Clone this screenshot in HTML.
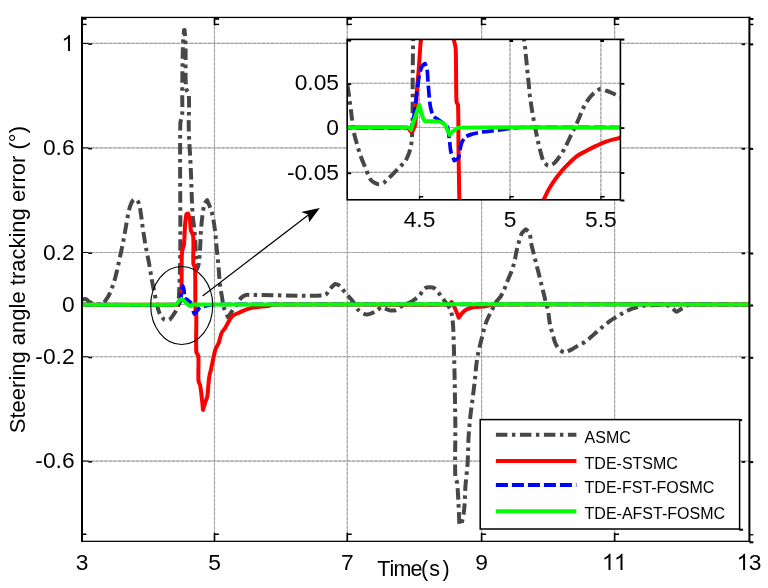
<!DOCTYPE html><html><head><meta charset="utf-8"><style>html,body{margin:0;padding:0;background:#fff;}svg{display:block;will-change:transform;}</style></head><body>
<svg width="768" height="588" viewBox="0 0 768 588" font-family='"Liberation Sans", sans-serif'>
<rect width="768" height="588" fill="#fff"/>
<defs><clipPath id="cm"><rect x="82.0" y="17.4" width="667.4" height="523.9"/></clipPath><clipPath id="ci"><rect x="347.2" y="39.4" width="273.2" height="160.4"/></clipPath></defs>
<g stroke="#c6c6c6" stroke-width="1.1"><line x1="214.5" y1="17.4" x2="214.5" y2="541.3"/><line x1="347.3" y1="17.4" x2="347.3" y2="541.3"/><line x1="481.6" y1="17.4" x2="481.6" y2="541.3"/><line x1="614.6" y1="17.4" x2="614.6" y2="541.3"/><line x1="82.0" y1="43.4" x2="749.4" y2="43.4"/><line x1="82.0" y1="147.9" x2="749.4" y2="147.9"/><line x1="82.0" y1="252.5" x2="749.4" y2="252.5"/><line x1="82.0" y1="304.5" x2="749.4" y2="304.5"/><line x1="82.0" y1="356.8" x2="749.4" y2="356.8"/><line x1="82.0" y1="461.1" x2="749.4" y2="461.1"/></g>
<g stroke="#a2a2a2" stroke-width="1.1" stroke-dasharray="3 1.5"><line x1="214.5" y1="17.4" x2="214.5" y2="541.3"/><line x1="347.3" y1="17.4" x2="347.3" y2="541.3"/><line x1="481.6" y1="17.4" x2="481.6" y2="541.3"/><line x1="614.6" y1="17.4" x2="614.6" y2="541.3"/><line x1="82.0" y1="43.4" x2="749.4" y2="43.4"/><line x1="82.0" y1="147.9" x2="749.4" y2="147.9"/><line x1="82.0" y1="252.5" x2="749.4" y2="252.5"/><line x1="82.0" y1="304.5" x2="749.4" y2="304.5"/><line x1="82.0" y1="356.8" x2="749.4" y2="356.8"/><line x1="82.0" y1="461.1" x2="749.4" y2="461.1"/></g>
<g fill="#000"><rect x="81.2" y="17.4" width="1.6" height="8"/><rect x="82.0" y="18.0" width="4.6" height="1.8"/><rect x="82.0" y="23.7" width="4.6" height="1.4"/><rect x="81.2" y="532.8" width="1.6" height="8.5"/><rect x="82.0" y="533.5" width="4.4" height="1.5"/><rect x="213.7" y="17.4" width="1.6" height="8"/><rect x="214.5" y="18.0" width="4.6" height="1.8"/><rect x="214.5" y="23.7" width="4.6" height="1.4"/><rect x="213.7" y="532.8" width="1.6" height="8.5"/><rect x="214.5" y="533.5" width="4.4" height="1.5"/><rect x="346.5" y="17.4" width="1.6" height="8"/><rect x="347.3" y="18.0" width="4.6" height="1.8"/><rect x="347.3" y="23.7" width="4.6" height="1.4"/><rect x="346.5" y="532.8" width="1.6" height="8.5"/><rect x="347.3" y="533.5" width="4.4" height="1.5"/><rect x="480.8" y="17.4" width="1.6" height="8"/><rect x="481.6" y="18.0" width="4.6" height="1.8"/><rect x="481.6" y="23.7" width="4.6" height="1.4"/><rect x="480.8" y="532.8" width="1.6" height="8.5"/><rect x="481.6" y="533.5" width="4.4" height="1.5"/><rect x="613.8000000000001" y="17.4" width="1.6" height="8"/><rect x="614.6" y="18.0" width="4.6" height="1.8"/><rect x="614.6" y="23.7" width="4.6" height="1.4"/><rect x="613.8000000000001" y="532.8" width="1.6" height="8.5"/><rect x="614.6" y="533.5" width="4.4" height="1.5"/><rect x="749.4" y="18.0" width="4" height="2"/><rect x="749.4" y="23.7" width="4" height="1.5"/><rect x="749.4" y="534.0999999999999" width="4" height="1.3"/><rect x="749.4" y="541.3" width="4" height="2"/><rect x="82.0" y="42.9" width="6.5" height="1"/><rect x="88.3" y="43.4" width="3.8" height="1.5"/><rect x="741.6" y="43.4" width="3.5" height="1.8"/><rect x="749.4" y="43.4" width="3.8" height="2"/><rect x="82.0" y="147.4" width="6.5" height="1"/><rect x="88.3" y="147.9" width="3.8" height="1.5"/><rect x="741.6" y="147.9" width="3.5" height="1.8"/><rect x="749.4" y="147.9" width="3.8" height="2"/><rect x="82.0" y="252.0" width="6.5" height="1"/><rect x="88.3" y="252.5" width="3.8" height="1.5"/><rect x="741.6" y="252.5" width="3.5" height="1.8"/><rect x="749.4" y="252.5" width="3.8" height="2"/><rect x="82.0" y="304.0" width="6.5" height="1"/><rect x="88.3" y="304.5" width="3.8" height="1.5"/><rect x="741.6" y="304.5" width="3.5" height="1.8"/><rect x="749.4" y="304.5" width="3.8" height="2"/><rect x="82.0" y="356.3" width="6.5" height="1"/><rect x="88.3" y="356.8" width="3.8" height="1.5"/><rect x="741.6" y="356.8" width="3.5" height="1.8"/><rect x="749.4" y="356.8" width="3.8" height="2"/><rect x="82.0" y="460.6" width="6.5" height="1"/><rect x="88.3" y="461.1" width="3.8" height="1.5"/><rect x="741.6" y="461.1" width="3.5" height="1.8"/><rect x="749.4" y="461.1" width="3.8" height="2"/></g>
<g clip-path="url(#cm)">
<path d="M82.0,299.5C82.0,299.5 85.1,298.9 86.0,299.2C87.0,299.5 88.3,301.3 89.5,302.0C91.1,302.9 93.2,303.7 95.0,304.0C97.0,304.3 99.6,304.3 101.4,304.0C102.3,303.9 103.3,303.1 104.0,302.5C104.8,301.7 105.5,300.5 106.2,299.5C107.2,298.0 108.2,296.6 109.0,295.0C110.0,293.1 110.7,291.0 111.5,289.0C112.6,286.2 113.6,283.4 114.5,280.5C115.4,277.4 116.2,274.2 116.9,271.0C117.8,267.3 118.5,263.7 119.3,260.0C120.0,256.7 120.8,253.3 121.5,250.0C122.1,247.0 122.7,244.0 123.3,241.0C123.8,238.3 124.3,235.7 124.8,233.0C125.3,230.3 125.7,227.7 126.2,225.0C126.7,222.3 127.1,219.7 127.6,217.0C128.1,214.3 128.6,211.6 129.3,209.0C129.7,207.3 130.3,205.6 131.0,204.0C131.4,202.9 132.0,201.7 132.6,200.8C133.0,200.2 133.9,199.6 134.4,199.4C134.9,199.3 136.0,199.3 136.4,199.6C137.0,200.0 137.8,201.0 138.2,201.8C138.9,203.2 139.4,204.9 139.7,206.5C140.4,209.6 140.7,212.8 141.2,216.0C141.7,219.3 142.0,222.7 142.5,226.0C143.0,229.3 143.5,232.7 144.0,236.0C144.5,239.0 145.0,242.0 145.5,245.0C146.0,247.7 146.5,250.3 147.0,253.0C147.6,256.3 148.4,259.7 149.0,263.0C149.6,266.3 150.1,269.7 150.7,273.0C151.3,276.7 151.9,280.3 152.6,284.0C153.2,287.0 153.9,290.0 154.5,293.0C155.2,296.3 155.7,299.7 156.5,303.0C157.4,306.6 158.3,310.6 159.8,313.8C160.8,315.9 163.2,319.0 164.5,319.8C165.3,320.3 168.5,320.3 169.3,319.8C170.6,319.0 172.6,315.9 174.0,313.8C175.3,311.9 177.1,309.9 177.6,307.9C178.6,304.1 178.8,299.3 179.0,295.0C179.7,280.1 180.2,265.0 180.3,250.0C180.6,208.0 179.7,165.3 180.3,124.0C180.3,120.7 182.0,117.3 182.2,114.0C182.6,106.2 182.1,98.0 182.2,90.0C182.4,74.7 182.5,59.3 183.0,44.0C183.1,39.3 184.1,30.4 184.1,30.0C184.1,30.0 184.6,30.0 184.6,30.0C184.6,30.3 185.4,39.3 185.5,44.0C185.9,58.6 185.1,74.3 186.0,88.0C186.2,90.3 188.6,92.7 188.8,95.0C189.5,105.8 188.5,118.4 188.8,130.0C189.1,142.3 190.2,154.7 190.7,167.0C191.4,182.3 191.6,197.7 192.5,213.0C192.8,218.7 193.9,224.3 194.4,230.0C194.9,235.0 195.2,240.0 195.5,245.0C195.8,250.7 195.6,256.4 196.0,262.0C196.1,264.3 197.0,269.0 197.0,269.0C197.0,269.0 198.3,266.4 198.5,265.0C199.3,260.2 199.6,255.0 200.0,250.0C200.5,243.4 200.5,236.6 201.0,230.0C201.4,225.0 201.8,220.0 202.5,215.0C203.0,211.3 203.5,207.2 204.5,204.0C204.9,202.7 207.2,200.2 207.2,200.2C207.2,200.2 210.6,208.0 211.7,212.0C213.0,217.0 213.9,222.2 214.6,227.4C215.6,234.7 216.1,242.1 216.8,249.5C217.4,255.2 218.0,260.8 218.5,266.5C219.1,272.7 219.3,278.9 220.0,285.0C220.5,289.0 221.3,293.0 222.0,297.0C222.6,300.7 223.0,304.5 224.0,308.0C224.9,311.1 228.0,317.2 228.0,317.2C228.0,317.2 233.1,309.5 235.7,305.7C237.6,302.9 239.4,299.7 241.5,297.5C242.6,296.4 244.5,295.4 246.0,295.0C247.4,294.6 249.3,295.0 251.0,295.0C275.7,295.1 309.6,296.4 325.0,295.2C326.7,295.1 328.2,290.9 330.0,289.0C331.6,287.2 334.3,284.3 335.2,284.0C335.9,283.8 338.9,285.0 340.0,286.0C341.9,287.7 343.5,290.7 345.4,293.0C347.7,295.7 350.4,298.2 352.5,301.0C354.8,304.0 356.4,308.2 358.8,310.4C360.7,312.2 364.9,314.5 367.0,314.6C369.0,314.7 372.8,312.8 375.4,311.5C377.6,310.4 380.2,307.4 381.7,307.3C383.4,307.2 387.4,309.9 390.0,310.4C391.9,310.7 394.6,310.6 396.2,310.0C398.3,309.2 400.3,306.7 402.5,305.5C405.1,304.1 408.2,303.4 410.8,302.0C412.6,301.1 414.3,299.7 416.0,298.5C417.3,297.5 418.7,296.5 419.7,295.3C421.0,293.8 421.8,291.5 423.0,290.0C423.8,289.1 425.0,288.0 426.0,287.6C427.3,287.1 429.4,287.1 431.0,287.2C432.0,287.2 433.3,287.5 434.0,288.0C435.3,288.9 436.8,290.6 438.0,292.0C439.4,293.7 440.7,295.7 442.0,297.5C444.1,300.3 446.4,303.1 448.3,306.0C449.5,307.9 450.9,309.9 451.3,312.0C452.5,317.5 453.1,324.0 453.3,330.0C454.4,359.9 454.9,390.0 455.3,420.0C455.6,439.0 454.7,458.8 455.3,477.0C455.4,479.2 457.1,481.3 457.3,483.5C458.4,496.7 459.3,523.6 459.4,524.3C459.4,524.3 461.4,524.4 461.4,524.3C461.7,523.4 463.6,514.8 464.1,510.0C465.0,501.9 464.9,493.7 465.5,485.5C466.1,478.0 467.1,470.5 467.6,463.0C468.2,454.2 468.1,445.3 468.6,436.5C469.1,429.0 469.8,421.5 470.6,414.0C471.2,408.7 472.0,403.3 472.7,398.0C473.4,392.5 474.1,387.1 474.7,381.6C475.3,376.2 475.7,370.7 476.3,365.3C476.7,361.9 477.2,358.4 477.8,355.0C478.3,352.0 479.1,349.0 479.8,346.0C480.8,341.9 481.9,337.8 482.9,333.7C483.5,331.3 484.0,328.8 484.7,326.5C485.5,324.0 486.4,321.4 487.5,319.0C488.6,316.5 490.0,314.1 491.2,311.6C492.8,308.5 494.1,305.1 495.9,302.2C497.2,300.2 499.3,298.6 500.6,296.6C502.1,294.3 503.2,291.7 504.3,289.2C505.7,286.1 506.7,282.9 508.0,279.8C509.2,276.7 510.7,273.6 511.8,270.5C512.9,267.4 513.8,264.3 514.6,261.1C515.4,258.0 515.7,254.9 516.4,251.8C517.3,248.0 518.2,244.3 519.3,240.6C520.1,238.1 520.8,235.2 522.0,233.1C522.8,231.7 525.8,229.3 525.8,229.3C525.8,229.3 529.0,231.7 529.5,233.1C530.6,236.0 530.6,240.6 531.4,244.3C532.2,248.1 533.3,251.8 534.2,255.5C535.1,259.2 536.1,263.0 537.0,266.7C537.9,270.4 538.9,274.2 539.8,277.9C540.7,281.7 541.7,285.4 542.6,289.2C543.5,292.9 544.5,296.7 545.4,300.4C546.3,304.1 547.5,307.8 548.2,311.6C548.9,315.1 549.0,318.7 549.6,322.2C550.0,324.3 550.5,326.4 551.0,328.5C551.6,330.7 552.3,332.9 552.9,335.1C553.6,337.5 554.1,340.1 555.0,342.3C555.9,344.5 557.1,347.1 558.6,348.7C560.0,350.2 563.1,352.3 564.4,352.3C566.2,352.3 570.2,350.1 573.0,348.7C574.7,347.8 576.3,346.6 578.0,345.6C580.1,344.4 582.4,343.6 584.4,342.3C586.9,340.6 589.2,338.5 591.6,336.5C593.5,334.9 595.4,333.2 597.3,331.5C599.2,329.8 601.1,328.1 603.0,326.5C605.4,324.5 607.7,322.6 610.2,320.8C612.0,319.5 614.0,318.4 615.9,317.2C618.3,315.7 620.7,314.2 623.1,312.9C625.4,311.6 627.8,310.3 630.3,309.3C632.6,308.4 635.0,307.9 637.4,307.2C639.3,306.7 641.3,305.9 643.2,305.7C647.0,305.2 651.1,305.2 655.0,305.0C658.3,304.8 662.0,304.2 665.0,304.5C666.6,304.7 668.6,305.6 670.0,306.5C672.3,307.9 675.6,311.6 676.5,311.8C677.2,311.9 680.1,309.6 682.0,308.5C684.0,307.4 686.0,305.9 688.0,305.2C689.5,304.7 691.3,304.6 693.0,304.5C695.3,304.4 697.7,304.5 700.0,304.5C716.3,304.5 749.0,304.5 749.0,304.5" fill="none" stroke="#474747" stroke-width="4.0" stroke-dasharray="11.5 4.5 3.5 4.5" stroke-linejoin="round"/>
<path d="M82.0,304.5C82.0,304.5 162.5,305.2 178.0,304.5C178.8,304.5 180.2,301.5 180.5,300.0C181.3,295.8 181.4,290.7 181.5,286.0C181.9,274.7 181.3,263.0 182.0,252.0C182.2,249.3 183.7,246.7 184.0,244.0C184.7,238.1 184.5,232.0 185.0,226.0C185.3,222.0 186.1,215.7 186.5,214.0C186.6,213.8 188.0,213.5 188.0,213.5C188.0,213.5 189.6,217.8 190.0,220.0C190.5,223.2 190.2,226.9 190.8,230.0C191.2,232.0 193.0,234.0 193.2,236.0C193.9,244.7 192.9,255.3 193.4,264.0C193.5,265.3 194.9,266.7 195.0,268.0C195.6,281.0 195.1,296.2 195.5,310.0C195.5,311.3 196.3,312.7 196.3,314.0C196.5,326.4 195.8,340.7 196.3,352.0C196.4,353.3 198.2,354.7 198.3,356.0C198.9,363.5 198.0,373.2 198.5,381.0C198.6,382.7 200.0,384.3 200.3,386.0C201.5,393.7 203.0,410.0 203.0,410.0C203.0,410.0 204.6,404.7 205.4,402.0C206.0,400.0 207.1,398.0 207.4,396.0C208.1,392.1 208.1,387.8 208.5,383.7C208.8,381.0 209.0,378.2 209.5,375.5C209.9,373.5 210.5,371.4 211.0,369.4C211.9,365.3 212.7,361.1 213.6,357.0C214.2,354.3 214.7,351.5 215.6,349.0C216.4,346.9 217.9,345.0 218.7,342.9C219.9,339.6 220.4,335.7 221.7,332.7C222.3,331.2 223.9,330.0 224.8,328.6C227.3,324.6 229.3,319.3 232.0,316.3C233.6,314.6 236.9,313.7 239.4,312.5C242.5,311.1 245.6,309.5 248.8,308.6C251.7,307.7 254.9,307.4 258.0,307.0C261.3,306.6 264.7,306.5 268.0,306.0C270.0,305.7 272.0,304.5 274.0,304.5C330.3,304.0 400.8,305.2 448.0,304.5C449.2,304.5 451.5,302.0 451.5,302.0C451.5,302.0 453.4,304.6 454.0,306.0C455.7,309.8 458.8,317.7 458.8,317.7C458.8,317.7 462.7,312.0 465.0,310.4C467.1,308.9 470.5,307.9 473.3,307.3C477.2,306.5 481.7,306.8 485.8,306.2C488.9,305.9 491.9,304.5 495.0,304.5C578.2,303.9 749.0,304.5 749.0,304.5" fill="none" stroke="#ff0000" stroke-width="4.0" stroke-linejoin="round"/>
<path d="M82.0,304.5C82.0,304.5 162.5,305.2 178.0,304.5C178.8,304.5 180.1,301.5 180.5,300.0C181.2,297.0 181.0,293.2 181.5,290.0C181.7,288.6 182.8,286.0 182.8,286.0C182.8,286.0 183.8,288.7 184.0,290.0C184.4,292.6 184.0,296.6 184.5,298.0C184.7,298.5 186.2,298.9 187.0,299.5C188.0,300.3 189.2,301.1 190.0,302.0C190.8,302.9 191.6,303.9 192.0,305.0C192.7,307.1 192.9,309.8 193.5,312.0C193.7,312.7 194.5,314.0 194.5,314.0C194.5,314.0 196.2,312.0 197.0,311.0C198.0,309.8 198.9,308.3 200.0,307.5C200.7,307.0 202.0,306.8 203.0,306.5C204.6,306.1 206.3,305.8 208.0,305.5C210.3,305.1 212.7,304.5 215.0,304.5C391.2,304.2 749.0,304.5 749.0,304.5" fill="none" stroke="#0000ff" stroke-width="3.7" stroke-dasharray="12 4" stroke-linejoin="round"/>
<path d="M82.0,304.5C82.0,304.5 155.6,305.2 176.0,304.5C177.0,304.5 177.9,302.1 179.0,301.0C179.8,300.2 181.4,298.8 181.5,298.8C181.6,298.8 183.2,300.2 184.0,301.0C184.7,301.6 185.3,302.4 186.0,303.0C187.0,303.9 188.0,304.9 189.0,305.5C189.5,305.8 190.6,306.1 191.0,306.0C191.5,305.9 192.3,304.5 193.0,304.5C341.3,304.1 749.0,304.5 749.0,304.5" fill="none" stroke="#00ff00" stroke-width="4.0" stroke-linejoin="round"/>
</g>
<g fill="#000"><rect x="81" y="16.8" width="2" height="525"/><rect x="748.4" y="16.8" width="2" height="525"/><rect x="81" y="16.8" width="669.4" height="1.25"/><rect x="81" y="540.7" width="669.4" height="1.25"/></g>
<g font-size="22.8" fill="#000"><path d="M262 0L350 0L350 716L293 716C270 660 200 592 80 545L80 460C150 485 220 528 262 566Z" transform="translate(62.09,51.00) scale(0.02250,-0.02250)" fill="#000"/><text x="74.6" y="155.1" text-anchor="end">0.6</text><text x="74.6" y="259.7" text-anchor="end">0.2</text><text x="74.6" y="311.7" text-anchor="end">0</text><text x="74.6" y="364.0" text-anchor="end">-0.2</text><text x="74.6" y="468.3" text-anchor="end">-0.6</text><text x="82.0" y="569.9" text-anchor="middle">3</text><text x="214.5" y="569.9" text-anchor="middle">5</text><text x="347.3" y="569.9" text-anchor="middle">7</text><text x="481.6" y="569.9" text-anchor="middle">9</text><path d="M262 0L350 0L350 716L293 716C270 660 200 592 80 545L80 460C150 485 220 528 262 566Z" transform="translate(602.60,569.90) scale(0.02250,-0.02250)" fill="#000"/><path d="M262 0L350 0L350 716L293 716C270 660 200 592 80 545L80 460C150 485 220 528 262 566Z" transform="translate(614.60,569.90) scale(0.02250,-0.02250)" fill="#000"/><path d="M262 0L350 0L350 716L293 716C270 660 200 592 80 545L80 460C150 485 220 528 262 566Z" transform="translate(737.20,569.90) scale(0.02250,-0.02250)" fill="#000"/><text x="748.8" y="569.9">3</text></g>
<text x="377.3 389.4 393.6 410.6 420.9 429.3 442.5" y="575.5" font-size="21.5" fill="#000">Time(s)</text>
<text transform="translate(24.8,433.2) rotate(-90)" font-size="22" fill="#000">Steering angle tracking error (°)</text>
<rect x="480.2" y="419.6" width="259.40000000000003" height="109.39999999999998" fill="#fff" stroke="#000" stroke-width="1.5"/>
<rect x="739.1" y="528.7" width="4" height="2" fill="#000"/><rect x="739.1" y="419.1" width="3" height="2" fill="#000"/>
<line x1="495.9" y1="434.8" x2="576.4" y2="434.8" stroke="#474747" stroke-width="4" stroke-dasharray="11.5 4.5 3.5 4.5"/>
<text x="584.6" y="442.6" font-size="16" fill="#000">ASMC</text>
<line x1="495.9" y1="461.0" x2="576.4" y2="461.0" stroke="#ff0000" stroke-width="4"/>
<text x="584.6" y="468.8" font-size="16" fill="#000">TDE-STSMC</text>
<line x1="495.9" y1="485.1" x2="576.4" y2="485.1" stroke="#0000ff" stroke-width="4" stroke-dasharray="12 4"/>
<text x="584.6" y="492.9" font-size="16" fill="#000">TDE-FST-FOSMC</text>
<line x1="495.9" y1="511.3" x2="576.4" y2="511.3" stroke="#00ff00" stroke-width="4"/>
<text x="584.6" y="519.1" font-size="16" fill="#000">TDE-AFST-FOSMC</text>
<rect x="347.2" y="39.4" width="273.2" height="160.4" fill="#fff"/>
<g stroke="#c6c6c6" stroke-width="1.1"><line x1="419.5" y1="39.4" x2="419.5" y2="199.8"/><line x1="510.0" y1="39.4" x2="510.0" y2="199.8"/><line x1="600.9" y1="39.4" x2="600.9" y2="199.8"/><line x1="347.2" y1="83.2" x2="620.4" y2="83.2"/><line x1="347.2" y1="127.5" x2="620.4" y2="127.5"/><line x1="347.2" y1="172.4" x2="620.4" y2="172.4"/></g>
<g stroke="#a2a2a2" stroke-width="1.1" stroke-dasharray="3 1.5"><line x1="419.5" y1="39.4" x2="419.5" y2="199.8"/><line x1="510.0" y1="39.4" x2="510.0" y2="199.8"/><line x1="600.9" y1="39.4" x2="600.9" y2="199.8"/><line x1="347.2" y1="83.2" x2="620.4" y2="83.2"/><line x1="347.2" y1="127.5" x2="620.4" y2="127.5"/><line x1="347.2" y1="172.4" x2="620.4" y2="172.4"/></g>
<g fill="#000"><rect x="419.0" y="39.4" width="3.6" height="2.6"/><rect x="418.9" y="195.8" width="1.2" height="4"/><rect x="419.5" y="196.0" width="3.8" height="1.5"/><rect x="509.5" y="39.4" width="3.6" height="2.6"/><rect x="509.4" y="195.8" width="1.2" height="4"/><rect x="510.0" y="196.0" width="3.8" height="1.5"/><rect x="600.4" y="39.4" width="3.6" height="2.6"/><rect x="600.3" y="195.8" width="1.2" height="4"/><rect x="600.9" y="196.0" width="3.8" height="1.5"/><rect x="347.2" y="83.2" width="4" height="1.8"/><rect x="620.4" y="82.9" width="4" height="1.8"/><rect x="347.2" y="127.5" width="4" height="1.8"/><rect x="620.4" y="127.2" width="4" height="1.8"/><rect x="347.2" y="172.4" width="4" height="1.8"/><rect x="620.4" y="172.1" width="4" height="1.8"/><rect x="620.4" y="38.6" width="4" height="2"/><rect x="620.4" y="199.5" width="4" height="2"/><rect x="347.2" y="39.4" width="4" height="2.2"/></g>
<g clip-path="url(#ci)">
<path d="M347.5,85.4C347.5,85.4 348.2,89.8 348.5,92.0C349.2,97.2 349.9,102.4 350.6,107.6C351.6,115.1 352.2,122.6 353.4,130.0C354.0,133.7 355.1,137.4 356.1,141.0C357.4,145.7 358.7,150.4 360.3,155.0C361.9,159.7 364.0,164.3 365.9,168.9C367.2,172.2 368.4,175.9 370.0,178.7C370.8,180.0 372.2,181.3 373.5,182.2C374.5,182.9 375.9,183.6 377.0,183.9C378.0,184.2 379.4,184.2 380.5,184.0C381.6,183.8 383.1,183.3 384.0,182.6C386.8,180.4 389.6,177.2 392.4,174.5C395.2,171.7 398.0,169.0 400.7,166.1C402.4,164.3 404.3,162.6 405.6,160.6C407.0,158.4 408.0,155.6 409.0,153.0C409.8,150.7 410.6,148.4 411.0,146.0C411.6,142.4 411.8,138.7 412.0,135.0C412.3,130.0 412.4,125.0 412.5,120.0C412.7,106.7 412.6,93.3 412.7,80.0C412.8,63.3 413.2,30.0 413.2,30.0" fill="none" stroke="#474747" stroke-width="4.0" stroke-dasharray="11.5 4.5 3.5 4.5" stroke-linejoin="round"/>
<path d="M523.0,30.0C523.0,30.0 523.7,36.7 524.1,40.0C524.5,43.1 525.0,46.3 525.3,49.4C525.7,53.2 526.0,57.0 526.4,60.8C526.8,64.6 527.1,68.4 527.5,72.2C527.9,76.0 528.3,79.8 528.7,83.6C529.1,87.4 529.4,91.2 529.8,95.0C530.3,98.8 530.8,102.6 531.4,106.4C532.0,110.2 532.6,114.1 533.3,117.9C534.0,121.7 534.8,125.5 535.5,129.3C536.3,133.1 537.0,136.9 537.8,140.7C538.7,144.5 539.6,148.3 540.6,152.1C541.5,155.2 542.1,158.7 543.5,161.2C544.4,162.9 547.3,165.6 548.1,165.8C548.9,166.0 552.4,164.6 553.8,163.5C555.8,161.9 557.8,159.0 559.5,156.6C561.6,153.7 563.5,150.6 565.2,147.5C566.4,145.3 567.4,142.8 568.5,140.5C569.7,138.0 570.8,135.5 572.0,133.0C572.9,131.1 574.1,129.2 575.0,127.3C576.5,124.1 577.9,120.8 579.3,117.5C581.1,113.3 582.6,108.9 584.8,105.0C586.7,101.6 589.2,98.0 591.8,95.2C594.1,92.8 598.2,89.6 600.2,89.0C601.6,88.6 604.9,90.2 607.2,91.0C610.5,92.2 613.6,93.9 616.9,95.2C619.6,96.2 625.0,98.0 625.0,98.0" fill="none" stroke="#474747" stroke-width="4.0" stroke-dasharray="11.5 4.5 3.5 4.5" stroke-linejoin="round"/>
<path d="M340.0,127.5C340.0,127.5 383.6,127.3 405.0,127.5C406.0,127.5 407.4,127.6 408.0,128.0C408.8,128.6 409.8,130.8 410.5,131.3C410.8,131.5 412.3,131.5 412.5,131.3C412.9,131.0 413.5,129.1 414.0,128.0C414.5,126.8 415.2,125.6 415.3,124.4C416.1,114.6 416.1,103.9 416.7,93.7C417.3,84.4 418.3,75.2 419.0,65.9C419.5,59.4 419.8,52.9 420.3,46.4C420.7,40.9 421.8,30.0 421.8,30.0" fill="none" stroke="#ff0000" stroke-width="4.0" stroke-linejoin="round"/>
<path d="M453.0,30.0C453.0,30.0 453.4,36.3 453.8,39.4C454.3,42.6 455.6,45.8 455.7,49.0C456.4,66.4 455.8,86.2 456.5,102.0C456.5,103.0 458.0,103.9 458.0,104.9C458.6,118.1 458.3,134.6 458.5,149.4C458.8,169.6 459.5,210.0 459.5,210.0" fill="none" stroke="#ff0000" stroke-width="4.0" stroke-linejoin="round"/>
<path d="M540.0,206.0C540.0,206.0 542.5,201.9 543.6,199.8C544.9,197.4 545.9,194.8 547.2,192.4C548.7,189.5 550.3,186.6 552.1,183.9C554.0,181.0 556.1,178.1 558.3,175.3C560.6,172.4 563.0,169.4 565.6,166.7C569.1,163.1 572.7,159.3 576.6,156.3C579.5,154.1 583.1,152.6 586.4,150.8C589.6,149.1 592.9,147.4 596.2,145.9C599.4,144.4 602.7,142.7 606.0,141.6C610.4,140.1 615.0,139.1 619.5,138.0C621.3,137.5 625.0,136.8 625.0,136.8" fill="none" stroke="#ff0000" stroke-width="4.0" stroke-linejoin="round"/>
<path d="M340.0,127.5C340.0,127.5 405.1,128.4 411.0,127.5C412.0,127.3 413.3,119.9 414.0,116.0C415.2,108.7 415.7,101.1 416.7,93.7C417.6,87.2 418.2,80.5 419.5,74.2C420.1,71.4 421.1,68.1 422.3,65.9C422.8,65.0 425.0,63.6 425.0,63.6C425.0,63.6 426.7,66.9 427.0,68.6C427.6,72.1 427.6,76.1 427.9,79.8C428.3,85.4 428.7,90.9 429.2,96.5C429.6,100.2 429.8,104.0 430.6,107.6C431.2,110.4 432.1,114.0 433.4,116.0C434.5,117.6 437.1,118.8 439.0,120.2C440.4,121.2 441.9,122.0 443.2,123.0C444.7,124.2 446.9,125.6 447.4,127.1C448.7,130.6 448.9,136.4 449.6,141.0C450.1,144.7 450.1,148.7 451.0,152.2C451.7,155.0 454.3,160.6 454.3,160.6C454.3,160.6 458.0,158.9 458.5,157.8C459.8,154.7 459.9,148.0 461.3,143.8C462.1,141.4 463.9,138.3 465.5,136.9C467.0,135.6 470.1,134.8 472.4,134.1C475.1,133.3 478.0,132.7 480.8,132.2C484.5,131.6 488.2,131.2 491.9,130.8C494.6,130.5 497.3,130.3 500.0,130.0C503.3,129.6 506.7,128.9 510.0,128.5C513.3,128.1 516.7,127.5 520.0,127.5C554.8,127.2 625.0,127.5 625.0,127.5" fill="none" stroke="#0000ff" stroke-width="3.7" stroke-dasharray="12 4" stroke-linejoin="round"/>
<path d="M340.0,127.5C340.0,127.5 392.0,126.9 408.4,127.5C409.3,127.5 411.0,130.0 411.0,130.0C411.0,130.0 413.3,122.5 414.6,118.8C416.2,114.1 419.5,104.9 419.5,104.9C419.5,104.9 421.1,112.5 422.3,116.0C422.9,117.7 424.1,120.7 425.0,121.0C427.3,121.8 434.8,120.9 439.0,121.6C440.9,121.9 443.4,123.2 444.6,124.4C445.8,125.6 446.5,128.1 447.4,130.0C448.2,131.6 449.6,134.9 449.6,134.9C449.6,134.9 451.7,132.3 452.9,131.3C454.6,130.0 456.6,127.7 458.5,127.7C505.2,126.7 625.0,127.5 625.0,127.5" fill="none" stroke="#00ff00" stroke-width="4.0" stroke-linejoin="round"/>
</g>
<rect x="347.2" y="39.4" width="273.2" height="160.4" fill="none" stroke="#000" stroke-width="1.6"/>
<g font-size="22.8" fill="#000"><text x="339" y="90.4" text-anchor="end">0.05</text><text x="339" y="134.7" text-anchor="end">0</text><text x="339" y="179.6" text-anchor="end">-0.05</text><text x="419.5" y="227.2" text-anchor="middle">4.5</text><text x="510.0" y="227.2" text-anchor="middle">5</text><text x="600.9" y="227.2" text-anchor="middle">5.5</text></g>
<ellipse cx="181.7" cy="305.5" rx="31" ry="39" fill="none" stroke="#000" stroke-width="1.1"/>
<line x1="202.6" y1="296" x2="309" y2="214.5" stroke="#000" stroke-width="1.2"/>
<polygon points="319.8,207.9 301.1,212.1 308,214.6 309.2,222.2" fill="#000"/>
</svg></body></html>
